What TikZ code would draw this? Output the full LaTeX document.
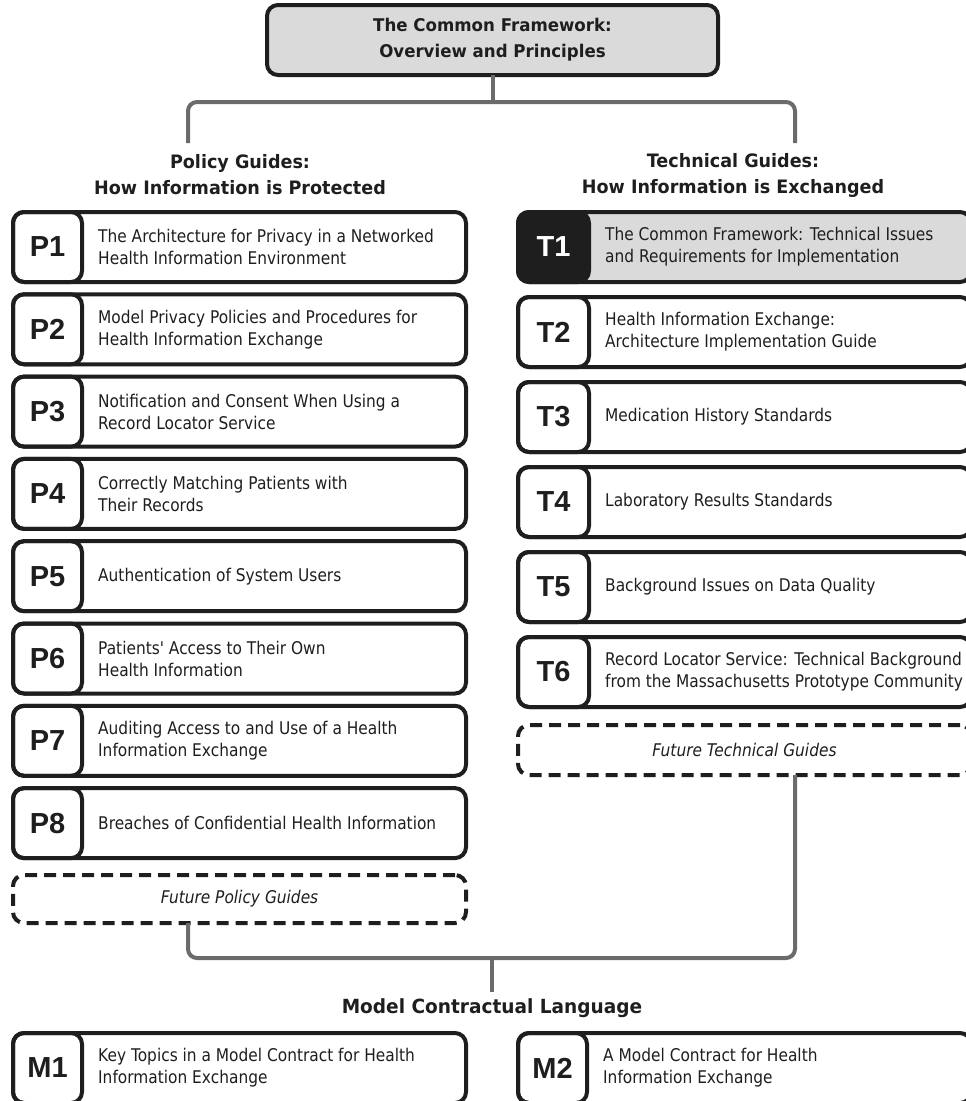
\documentclass[tikz,border=0pt]{standalone}
\usepackage{fontspec}
\newfontfamily\bodyfont{DejaVu Sans}[FakeStretch=0.88]
\newfontfamily\headfont{DejaVu Sans}[FakeStretch=0.95]
\newfontfamily\labfont{Liberation Sans}
\definecolor{boxgray}{HTML}{DADADA}
\definecolor{conngray}{HTML}{6B6B6B}
\definecolor{ink}{HTML}{1E1E1E}
\tikzset{
  outerbox/.style={draw=ink, line width=4pt, rounded corners=11pt, outer sep=0pt, inner sep=0pt},
  tabbox/.style={draw=ink, line width=4pt, rounded corners=11pt},
  labtext/.style={font=\labfont\bfseries\fontsize{29}{29}\selectfont, text=ink, inner sep=0pt},
  bodytext/.style={font=\bodyfont\fontsize{17.5}{22}\selectfont, text=ink, align=left, inner sep=0pt, anchor=west},
  conn/.style={draw=conngray, line width=4pt, rounded corners=9pt},
  dashbox/.style={draw=ink, line width=4pt, rounded corners=11pt, dash pattern=on 12pt off 7pt, outer sep=0pt, inner sep=0pt,
    font=\bodyfont\itshape\fontsize{17.5}{22}\selectfont, text=ink},
  headtext/.style={font=\headfont\bfseries\fontsize{18.5}{26}\selectfont, text=ink, align=center, inner sep=0pt},
}
\newcommand\guide[6]{% name, left, top, tab right, label, text
  \node[outerbox, anchor=north west, minimum width=453pt, minimum height=70pt] (#1) at (#2,#3) {};
  \draw[tabbox] (#2,#3) rectangle (#4,{#3+70});
  \node[labtext] (#1lab) at ({(#2+#4)/2},{#3+35}) {#5};
  \node[bodytext] (#1txt) at ({#4+16},{#3+35}) {#6};
}
\begin{document}
\begin{tikzpicture}[x=1pt,y=-1pt]
\useasboundingbox (0,0) rectangle (966,1101);
\clip (0,0) rectangle (966,1101);

% top box
\node[outerbox, fill=boxgray, minimum width=451pt, minimum height=70pt, align=center,
  font=\headfont\bfseries\fontsize{17.5}{26}\selectfont, text=ink] (top) at (492.5,40)
  {The Common Framework:\\Overview and Principles};

% headers
\node[headtext] (phead) at (240,175) {Policy Guides:\\How Information is Protected};
\node[headtext] (thead) at (733,175) {Technical Guides:\\How Information is Exchanged};

\coordinate (lhead) at (188,143);
\coordinate (rhead) at (795,143);
\coordinate (hb) at (492,102);
\draw[conn] (top.south) -- (top.south |- hb);
\draw[conn] (lhead) -- (lhead |- hb) -- (rhead |- hb) -- (rhead);

% policy guides
\guide{p1}{13}{212}{82}{P1}{The Architecture for Privacy in a Networked\\Health Information Environment}
\guide{p2}{13}{294.3}{82}{P2}{Model Privacy Policies and Procedures for\\Health Information Exchange}
\guide{p3}{13}{376.6}{82}{P3}{Notification and Consent When Using a\\Record Locator Service}
\guide{p4}{13}{458.9}{82}{P4}{Correctly Matching Patients with\\Their Records}
\guide{p5}{13}{541.2}{82}{P5}{Authentication of System Users}
\guide{p6}{13}{623.5}{82}{P6}{Patients' Access to Their Own\\Health Information}
\guide{p7}{13}{705.8}{82}{P7}{Auditing Access to and Use of a Health\\Information Exchange}
\guide{p8}{13}{788.1}{82}{P8}{Breaches of Confidential Health Information}
\node[dashbox, anchor=north west, minimum width=453pt, minimum height=48pt] (fp) at (13,875) {Future Policy Guides};

% technical guides
\node[outerbox, fill=boxgray, anchor=north west, minimum width=453pt, minimum height=70pt] (t1) at (518,212) {};
\draw[tabbox, fill=ink] (518,212) rectangle (589,282);
\node[labtext, text=white] (t1lab) at (553.5,247) {T1};
\node[bodytext] (t1txt) at (605,247) {The Common Framework: Technical Issues\\and Requirements for Implementation};
\guide{t2}{518}{297}{589}{T2}{Health Information Exchange:\\Architecture Implementation Guide}
\guide{t3}{518}{382}{589}{T3}{Medication History Standards}
\guide{t4}{518}{467}{589}{T4}{Laboratory Results Standards}
\guide{t5}{518}{552}{589}{T5}{Background Issues on Data Quality}
\guide{t6}{518}{637}{589}{T6}{Record Locator Service: Technical Background\\from the Massachusetts Prototype Community}
\node[dashbox, anchor=north west, minimum width=453pt, minimum height=50pt] (ft) at (518,725) {Future Technical Guides};

% bottom connector
\coordinate (bb) at (492,958);
\coordinate (mend) at (492,992);
\draw[conn] (fp.south -| lhead) -- (lhead |- bb) -- (rhead |- bb) -- (ft.south -| rhead);
\draw[conn] (bb) -- (mend);

\node[headtext, font=\headfont\bfseries\fontsize{19.5}{26}\selectfont] (mhead) at (492,1008) {Model Contractual Language};

\guide{m1}{13}{1033}{82}{M1}{Key Topics in a Model Contract for Health\\Information Exchange}
\guide{m2}{518}{1033}{587}{M2}{A Model Contract for Health\\Information Exchange}
\end{tikzpicture}
\end{document}
